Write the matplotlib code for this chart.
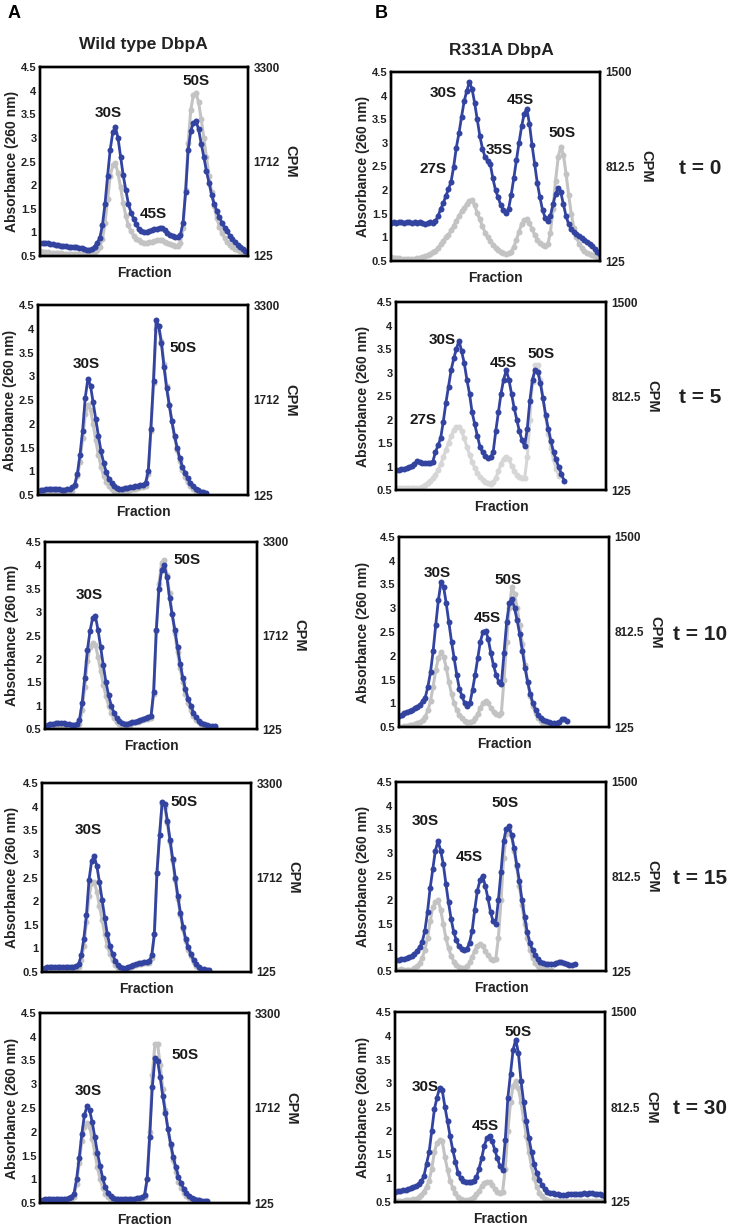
import numpy as np
import matplotlib
matplotlib.use('Agg')
import matplotlib.pyplot as plt

plt.rcParams['font.family'] = ['Liberation Sans', 'DejaVu Sans']

# ---------------- data (absorbance-scale readings, fraction index) ----------------
a1_blue = [.78,.78,.77,.77,.76,.75,.74,.73,.72,.71,.71,.70,.69,.68,.68,.67,.66,.65,.63,.62,
           .64,.70,.78,.88,1.15,1.6,2.2,2.75,3.12,3.23,3.0,2.6,2.21,1.9,1.6,1.42,1.29,1.17,1.07,1.02,
           1.01,1.0,1.02,1.05,1.07,1.08,1.1,1.09,1.04,.98,.95,.92,.9,.9,.95,1.2,1.85,2.75,3.15,3.32,
           3.36,3.18,2.88,2.6,2.3,2.05,1.8,1.6,1.45,1.32,1.2,1.1,1.02,.93,.86,.8,.74,.68,.64,.61,.58]
a1_gray = [.6,.59,.58,.58,.57,.57,.56,.56,.56,.55,.55,.55,.55,.55,.55,.55,.55,.55,.55,.55,
           .56,.58,.62,.7,.85,1.2,1.7,2.2,2.42,2.46,2.25,1.95,1.62,1.35,1.15,1.02,.93,.87,.83,.8,
           .78,.78,.79,.8,.82,.83,.84,.83,.8,.77,.75,.73,.72,.72,.78,1.1,1.9,2.9,3.6,3.9,
           3.95,3.75,3.4,3.0,2.6,2.2,1.85,1.55,1.3,1.12,.98,.88,.8,.74,.69,.65,.62,.6,.58,.57,.56]

a2_blue = [.59,.6,.61,.62,.62,.62,.62,.62,.62,.61,.61,.62,.63,.66,.72,.95,1.35,1.85,2.55,2.95,
           2.8,2.45,2.1,1.75,1.42,1.18,.98,.84,.75,.69,.65,.63,.63,.64,.64,.66,.67,.69,.7,.71,
           .72,.76,1.0,1.9,2.9,4.18,4.05,3.7,3.2,2.75,2.4,2.05,1.75,1.5,1.28,1.1,.97,.85,.75,.68,
           .63,.6,.57,.56,.55]
a2_gray = [.53,.53,.53,.53,.53,.53,.53,.53,.53,.53,.53,.53,.54,.58,.7,.9,1.2,1.7,2.2,2.4,
           2.3,2.0,1.65,1.35,1.1,.9,.78,.68,.62,.58,.56,.55,.55,.56,.58,.6,.62,.63,.65,.66,
           .67,.7,.95,1.85,2.85,4.0,4.05,3.75,3.25,2.8,2.4,2.05,1.72,1.45,1.22,1.02,.88,.77,.68,.62,
           .58,.55,.53,.52,.52]

a3_blue = [.57,.58,.6,.61,.62,.62,.62,.62,.61,.6,.59,.59,.6,.7,1.05,1.6,2.19,2.6,2.88,2.92,
           2.62,2.25,1.86,1.5,1.22,1.0,.85,.74,.67,.62,.6,.6,.62,.64,.66,.68,.7,.72,.74,.76,
           .77,1.3,2.62,3.5,3.9,4.0,3.75,3.3,2.95,2.62,2.25,1.9,1.6,1.35,1.15,1.0,.85,.75,.68,.63,
           .6,.58,.57,.56,.56]
a3_gray = [.53,.53,.53,.53,.53,.53,.53,.53,.53,.53,.53,.53,.54,.6,.9,1.4,1.95,2.25,2.35,2.3,
           2.05,1.75,1.45,1.2,1.0,.85,.73,.65,.6,.57,.56,.57,.59,.62,.64,.66,.68,.7,.71,.72,
           .73,1.25,2.6,3.6,4.05,4.12,3.8,3.4,2.95,2.55,2.15,1.8,1.5,1.25,1.05,.9,.78,.7,.64,.6,
           .57,.55,.54,.53,.53]

a4_blue = [.57,.58,.6,.6,.61,.61,.61,.61,.61,.6,.6,.6,.61,.62,.66,.85,1.2,1.7,2.45,2.85,
           2.95,2.74,2.4,2.03,1.65,1.3,1.05,.88,.74,.65,.6,.58,.58,.6,.63,.65,.67,.69,.7,.71,
           .72,.73,.85,1.3,2.6,3.4,4.1,4.05,3.7,3.3,2.9,2.5,2.1,1.75,1.45,1.2,1.02,.88,.75,.66,
           .6,.57,.56,.55,.54]
a4_gray = [.53,.53,.53,.53,.53,.53,.53,.53,.53,.53,.53,.53,.53,.55,.6,.75,1.05,1.55,2.1,2.38,
           2.4,2.2,1.9,1.6,1.3,1.05,.88,.75,.65,.59,.56,.55,.55,.57,.6,.62,.64,.66,.67,.68,
           .69,.7,.8,1.3,2.6,3.4,4.05,4.0,3.65,3.25,2.85,2.45,2.05,1.7,1.4,1.15,.97,.83,.71,.63,
           .58,.55,.53,.52,.52]

a5_blue = [.57,.57,.58,.58,.58,.58,.58,.58,.58,.58,.59,.6,.62,.7,1.0,1.45,1.95,2.35,2.54,2.45,
           2.2,1.88,1.55,1.28,1.02,.84,.72,.65,.61,.59,.58,.58,.58,.58,.58,.58,.59,.6,.61,.62,
           .66,1.0,1.9,2.95,3.55,3.5,3.15,2.75,2.4,2.05,1.75,1.47,1.25,1.05,.92,.8,.71,.65,.61,.58,
           .57,.56,.55,.54,.54]
a5_gray = [.53,.53,.53,.53,.53,.53,.53,.53,.53,.53,.53,.53,.55,.62,.9,1.35,1.8,2.1,2.18,2.1,
           1.85,1.55,1.25,1.0,.82,.7,.62,.57,.55,.55,.55,.55,.55,.55,.55,.55,.56,.57,.58,.59,
           .62,1.0,2.0,3.2,3.85,3.85,3.4,2.9,2.45,2.05,1.7,1.4,1.15,.95,.82,.72,.65,.6,.57,.55,
           .54,.53,.53,.52,.52]

b1_blue = [1.31,1.32,1.3,1.33,1.32,1.31,1.33,1.32,1.3,1.32,1.31,1.33,1.3,1.29,1.3,1.32,1.3,
           1.34,1.45,1.6,1.72,1.88,2.02,2.18,2.5,2.9,3.2,3.55,3.88,4.1,4.28,4.15,3.85,3.5,3.15,
           2.88,2.7,2.62,2.55,2.25,2.0,1.85,1.68,1.58,1.51,1.6,1.9,2.25,2.63,3.0,3.35,3.62,3.72,
           3.4,2.95,2.55,2.15,1.85,1.58,1.42,1.34,1.45,1.7,1.92,2.04,1.95,1.7,1.45,1.28,1.18,
           1.12,1.07,1.03,.99,.95,.91,.87,.82,.76,.7,.64]
b1_gray = [.58,.57,.56,.56,.55,.55,.55,.55,.55,.55,.56,.57,.58,.6,.62,.65,.68,.72,.78,.85,
           .93,1.0,1.05,1.15,1.25,1.35,1.45,1.55,1.63,1.7,1.77,1.79,1.68,1.52,1.38,1.24,1.1,1.0,.92,.84,
           .78,.73,.69,.66,.65,.66,.7,.8,.95,1.12,1.28,1.37,1.38,1.3,1.18,1.05,.95,.88,.83,.82,
           .85,1.1,1.6,2.2,2.7,2.92,2.75,2.35,1.9,1.5,1.2,1.0,.87,.78,.72,.67,.64,.62,.6,.59,.58]

b2_blue = [.92,.93,.94,.95,.97,1.0,1.02,1.05,1.12,1.1,1.07,1.07,1.08,1.08,1.1,1.3,1.45,1.6,1.95,2.35,
           2.7,3.05,3.3,3.5,3.68,3.45,3.2,2.85,2.55,2.15,1.9,1.65,1.42,1.3,1.22,1.19,1.2,1.3,1.75,2.15,
           2.55,2.85,3.05,2.85,2.55,2.25,2.0,1.75,1.56,1.43,1.8,2.4,2.85,3.05,3.02,2.77,2.45,2.1,1.8,1.55,
           1.3,1.15,.98,.85,.7]
b2_gray = [.55,.55,.55,.55,.55,.55,.55,.55,.55,.55,.57,.6,.65,.7,.75,.82,.92,1.05,1.2,1.35,
           1.5,1.65,1.77,1.84,1.85,1.75,1.6,1.42,1.25,1.1,.97,.87,.78,.72,.67,.64,.63,.66,.75,.9,
           1.05,1.17,1.21,1.15,1.02,.9,.82,.78,.76,.75,1.2,2.0,2.8,3.15,3.15,2.85,2.45,2.05,1.7,1.4,
           1.15,.95,.8]

b3_blue = [.73,.76,.79,.81,.83,.86,.9,.93,.97,1.05,1.12,1.35,1.65,2.1,2.65,3.17,3.55,3.45,3.1,2.7,
           2.3,1.95,1.6,1.3,1.15,1.0,.94,1.0,1.28,1.6,1.95,2.3,2.5,2.53,2.35,2.05,1.8,1.6,1.45,1.4,
           2.05,2.7,3.1,3.2,3.0,2.75,2.45,2.1,1.75,1.45,1.2,1.0,.86,.75,.69,.65,.62,.6,.59,.58,
           .58,.61,.66,.67,.62]
b3_gray = [.5,.51,.52,.53,.54,.55,.57,.58,.6,.65,.72,.85,1.05,1.35,1.7,1.95,2.07,1.98,1.75,1.45,
           1.2,1.0,.86,.76,.68,.63,.6,.6,.62,.68,.78,.9,1.0,1.05,1.0,.9,.82,.78,.75,.8,
           1.5,2.3,3.0,3.44,3.3,3.0,2.65,2.25,1.8,1.45,1.15,.95,.8,.7,.62,.57,.54,.52,.52,.52,
           .53]

b4_blue = [.73,.74,.75,.76,.77,.79,.82,.86,.93,1.0,1.12,1.35,1.75,2.25,2.65,3.05,3.25,3.05,2.77,2.35,
           1.95,1.6,1.32,1.15,1.02,.97,.94,.96,1.1,1.35,1.8,2.2,2.42,2.52,2.3,2.05,1.75,1.55,1.5,2.0,
           2.6,3.25,3.5,3.56,3.38,3.1,2.75,2.4,2.0,1.65,1.32,1.1,.95,.84,.76,.7,.67,.65,.64,.64,
           .64,.66,.69,.7,.67,.64,.62,.63,.65]
b4_gray = [.52,.53,.54,.53,.52,.52,.53,.56,.6,.67,.78,.95,1.2,1.55,1.85,1.95,2.0,1.8,1.5,1.2,
           .98,.82,.7,.62,.58,.56,.57,.6,.68,.8,.93,1.03,1.07,1.03,.93,.83,.76,.73,.75,1.2,
           2.0,2.9,3.4,3.5,3.35,3.05,2.7,2.3,1.9,1.5,1.2,.95,.78,.67,.6,.56,.54,.53,.52,.52]

b5_blue = [.72,.73,.74,.75,.76,.77,.79,.81,.84,.88,.94,1.04,1.3,1.55,2.0,2.45,2.7,2.9,2.85,2.51,
           2.2,1.88,1.6,1.35,1.12,1.0,.95,.93,.93,.93,.95,1.02,1.2,1.42,1.68,1.85,1.9,1.78,1.6,1.42,
           1.25,1.18,1.8,2.7,3.2,3.71,3.92,3.64,3.05,2.6,2.2,1.85,1.55,1.3,1.11,.97,.85,.77,.72,.69,
           .68,.67,.66,.65,.65,.65,.66,.66,.67,.67,.66,.67,.68,.67,.7,.68,.67,.66,.66,.65,.63]
b5_gray = [.52,.52,.53,.53,.54,.54,.55,.56,.57,.6,.65,.72,.82,.95,1.2,1.55,1.75,1.8,1.78,1.45,
           1.18,.95,.8,.68,.6,.56,.55,.55,.55,.57,.6,.66,.74,.83,.9,.93,.92,.85,.77,.72,
           .7,.72,1.2,2.0,2.6,2.95,3.04,2.9,2.6,2.25,1.9,1.55,1.25,1.0,.82,.7,.62,.57,.54,.52,
           .52,.52,.52,.52,.52,.52,.52,.52,.52,.52,.52,.52,.52,.52,.52,.52,.52,.52,.52,.52,.52]

y_ticks = [0.5, 1, 1.5, 2, 2.5, 3, 3.5, 4, 4.5]
y_tick_labels = ['0.5', '1', '1.5', '2', '2.5', '3', '3.5', '4', '4.5']
cpm_labels_a = ['125', '1712', '3300']
cpm_labels_b = ['125', '812.5', '1500']
time_labels = ['t = 0', 't = 5', 't = 10', 't = 15', 't = 30']

# peak labels: (text, relative x, y)
peaks_a = [
    [('30S', .33, 3.52), ('45S', .545, 1.38), ('50S', .75, 4.2)],
    [('30S', .23, 3.26), ('50S', .69, 3.6)],
    [('30S', .21, 3.36), ('50S', .67, 4.12)],
    [('30S', .22, 3.5), ('50S', .68, 4.1)],
    [('30S', .23, 2.86), ('50S', .695, 3.62)],
]
peaks_b = [
    [('30S', .25, 4.05), ('27S', .2, 2.44), ('35S', .52, 2.84), ('45S', .62, 3.9), ('50S', .82, 3.2)],
    [('30S', .22, 3.7), ('27S', .13, 2.0), ('45S', .51, 3.2), ('50S', .69, 3.4)],
    [('30S', .18, 3.75), ('45S', .42, 2.79), ('50S', .52, 3.59)],
    [('30S', .14, 3.68), ('45S', .35, 2.92), ('50S', .52, 4.05)],
    [('30S', .143, 2.92), ('45S', .43, 2.1), ('50S', .586, 4.08)],
]

# ---------------- layout ----------------
W, H = 738, 1230
fig = plt.figure(figsize=(W / 100, H / 100), dpi=100)

BLUE = '#3343a0'
GRAY = '#c3c3c3'

boxes_a = [(40, 67, 248, 256), (38, 305, 248, 495), (45, 542, 257, 729),
           (42, 783, 251, 972), (40, 1013, 249, 1203)]
boxes_b = [(391, 72, 600, 261), (396, 302, 606, 490), (399, 537, 609, 727),
           (396, 782, 606, 971), (395, 1012, 605, 1202)]

blues_a = [a1_blue, a2_blue, a3_blue, a4_blue, a5_blue]
grays_a = [a1_gray, a2_gray, a3_gray, a4_gray, a5_gray]
blues_b = [b1_blue, b2_blue, b3_blue, b4_blue, b5_blue]
grays_b = [b1_gray, b2_gray, b3_gray, b4_gray, b5_gray]


def fx(px):
    return px / W


def fy(py):
    return 1 - py / H


def panel(box, blue, gray, peaks, cpm_labels, ylab_x, cpm_dx, gcolor=GRAY):
    l, t, r, b = box
    ax = fig.add_axes([fx(l), fy(b), (r - l) / W, (b - t) / H])
    ax.plot(np.arange(len(gray)), gray, color=gcolor, lw=2.2, marker='o', ms=4.3,
            mec='none', zorder=2)
    ax.plot(np.arange(len(blue)), blue, color=BLUE, lw=2.0, marker='o', ms=4.3,
            mec='none', zorder=3)
    ax.set_xlim(0, 80)
    ax.set_ylim(0.5, 4.5)
    ax.set_xticks([])
    ax.set_yticks(y_ticks)
    ax.set_yticklabels(y_tick_labels, fontsize=8, fontweight='bold', color='#222222')
    ax.tick_params(axis='y', length=0, pad=2.5)
    for s in ax.spines.values():
        s.set_linewidth(1.7)
        s.set_color('black')
    for txt, rx, yy in peaks:
        ax.text(rx * 80, yy, txt, ha='center', va='center', fontsize=11,
                fontweight='bold', color='#1a1a1a', zorder=5)
    ax2 = ax.twinx()
    ax2.set_ylim(0, 1)
    ax2.set_yticks([0, 0.5, 1])
    ax2.set_yticklabels(cpm_labels, fontsize=8.5, fontweight='bold', color='#222222')
    ax2.tick_params(axis='y', length=0, pad=4)
    for s in ax2.spines.values():
        s.set_linewidth(1.7)
    yc = (t + b) / 2
    fig.text(fx(min(ylab_x, l - 28)), fy(yc), 'Absorbance (260 nm)', rotation=90,
             ha='center', va='center', fontsize=10, fontweight='bold', color='#222222')
    fig.text(fx(r + cpm_dx), fy(yc), 'CPM', rotation=270, ha='center', va='center',
             fontsize=10.5, fontweight='bold', color='#222222')
    fig.text(fx((l + r) / 2), fy(b + 17), 'Fraction', ha='center', va='center',
             fontsize=10, fontweight='bold', color='#222222')
    return ax


for k in range(5):
    panel(boxes_a[k], blues_a[k], grays_a[k], peaks_a[k], cpm_labels_a, 12, 42)
    panel(boxes_b[k], blues_b[k], grays_b[k], peaks_b[k], cpm_labels_b, 363, 46,
          gcolor='#d6d6d6' if k == 1 else GRAY)
    l, t, r, b = boxes_b[k]
    fig.text(fx(700), fy((t + b) / 2 + 2), time_labels[k], ha='center', va='center',
             fontsize=15, fontweight='bold', color='#222222')

fig.text(fx(14), fy(14), 'A', ha='center', va='center', fontsize=13, fontweight='bold')
fig.text(fx(381), fy(14), 'B', ha='center', va='center', fontsize=13, fontweight='bold')
fig.text(fx(143), fy(44), 'Wild type DbpA', ha='center', va='center', fontsize=12.5,
         fontweight='bold', color='#222222')
fig.text(fx(501), fy(50), 'R331A DbpA', ha='center', va='center', fontsize=12.5,
         fontweight='bold', color='#222222')

fig.savefig('out.png', dpi=100)
